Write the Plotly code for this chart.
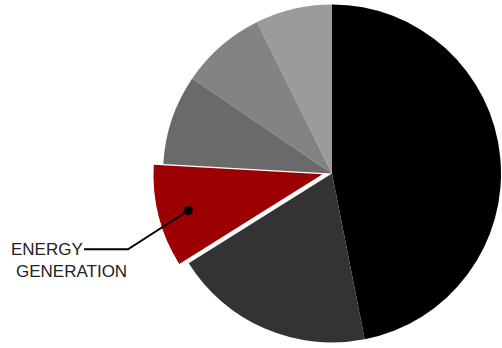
import plotly.graph_objects as go

# Slice shares (percent), clockwise from 12 o'clock
labels = ["Slice A", "Slice B", "Energy generation", "Slice D", "Slice E", "Slice F"]
values = [46.9, 19.2, 9.8, 8.6, 8.2, 7.3]
colors = ["#000000", "#333333", "#9c0000", "#6a6a6a", "#838383", "#9b9b9b"]
highlight_index = 2  # exploded slice
callout_lines = ["ENERGY", "GENERATION"]

W, H = 502, 348
transparent = "rgba(0,0,0,0)"

base_colors = [transparent if i == highlight_index else c for i, c in enumerate(colors)]
hl_colors = [c if i == highlight_index else transparent for i, c in enumerate(colors)]

# pie geometry in pixels
cx, cy, r = 332, 173.5, 169
off_x, off_y = -9.5, 0.8  # explode offset of highlighted slice


def dom(cx_, cy_):
    return dict(x=[(cx_ - r) / W, (cx_ + r) / W],
                y=[1 - (cy_ + r) / H, 1 - (cy_ - r) / H])


fig = go.Figure()
common = dict(labels=labels, values=values, sort=False, direction="clockwise",
              rotation=0, textinfo="none", showlegend=False,
              marker_line_width=0)
fig.add_trace(go.Pie(marker_colors=base_colors, domain=dom(cx, cy), **common))
fig.add_trace(go.Pie(marker_colors=hl_colors, domain=dom(cx + off_x, cy + off_y),
                     **common))


def px(x):
    return x / W


def py(y):
    return 1 - y / H


# leader line
fig.add_shape(type="path", xref="paper", yref="paper",
              path=f"M {px(84)} {py(249.3)} L {px(128)} {py(249.3)} L {px(188.3)} {py(210.5)}",
              line=dict(color="black", width=2))
fig.add_shape(type="circle", xref="paper", yref="paper",
              x0=px(188.3 - 4.5), x1=px(188.3 + 4.5),
              y0=py(210.5 + 4.5), y1=py(210.5 - 4.5),
              fillcolor="black", line=dict(color="black", width=0))

fig.add_annotation(x=px(9), y=py(249.5), xref="paper", yref="paper",
                   text=callout_lines[0], showarrow=False, xanchor="left", yanchor="middle",
                   font=dict(family="Liberation Sans, Arial", size=17, color="#222222"))
fig.add_annotation(x=px(14), y=py(271.7), xref="paper", yref="paper",
                   text=callout_lines[1], showarrow=False, xanchor="left", yanchor="middle",
                   font=dict(family="Liberation Sans, Arial", size=17, color="#222222"))

fig.update_layout(width=W, height=H, margin=dict(l=0, r=0, t=0, b=0),
                  paper_bgcolor="white", plot_bgcolor="white")

fig.write_html("out.html")
